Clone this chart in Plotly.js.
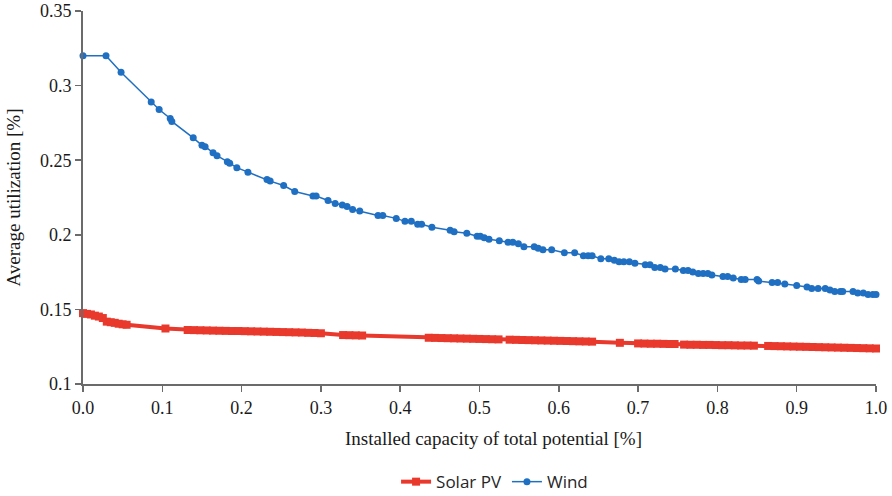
<!DOCTYPE html>
<html>
<head>
<meta charset="utf-8">
<script src="https://cdn.plot.ly/plotly-3.0.1.min.js"></script>
<style>
  html, body { margin: 0; padding: 0; background: #ffffff; }
  #chart { width: 892px; height: 496px; }
</style>
</head>
<body>
<div id="chart"></div>
<script>
// Installed capacity share (x) vs. average utilization (y)
const windX = [0.000, 0.029, 0.048, 0.086, 0.096, 0.110, 0.112, 0.139, 0.150, 0.154,
  0.164, 0.169, 0.182, 0.185, 0.194, 0.208, 0.232, 0.236, 0.253, 0.267,
  0.290, 0.294, 0.309, 0.318, 0.327, 0.333, 0.340, 0.349, 0.372, 0.378,
  0.395, 0.406, 0.414, 0.422, 0.427, 0.440, 0.463, 0.468, 0.484, 0.497,
  0.501, 0.506, 0.512, 0.525, 0.536, 0.542, 0.549, 0.556, 0.569, 0.574,
  0.580, 0.591, 0.607, 0.620, 0.631, 0.637, 0.642, 0.653, 0.663, 0.670,
  0.676, 0.682, 0.689, 0.696, 0.709, 0.715, 0.721, 0.728, 0.734, 0.747,
  0.757, 0.763, 0.769, 0.776, 0.782, 0.788, 0.793, 0.807, 0.813, 0.820,
  0.830, 0.835, 0.850, 0.852, 0.869, 0.876, 0.885, 0.900, 0.913, 0.919,
  0.927, 0.936, 0.942, 0.948, 0.955, 0.958, 0.971, 0.977, 0.984, 0.990,
  0.996, 1.000];
const windY = [0.320, 0.320, 0.309, 0.289, 0.284, 0.278, 0.276, 0.265, 0.260, 0.259,
  0.255, 0.253, 0.249, 0.248, 0.245, 0.242, 0.237, 0.236, 0.233, 0.229,
  0.226, 0.226, 0.223, 0.221, 0.220, 0.219, 0.217, 0.216, 0.213, 0.213,
  0.211, 0.209, 0.209, 0.207, 0.207, 0.205, 0.203, 0.202, 0.201, 0.199,
  0.199, 0.198, 0.197, 0.196, 0.195, 0.195, 0.194, 0.192, 0.192, 0.191,
  0.190, 0.190, 0.188, 0.188, 0.186, 0.186, 0.186, 0.184, 0.184, 0.183,
  0.182, 0.182, 0.182, 0.181, 0.180, 0.180, 0.178, 0.178, 0.177, 0.177,
  0.176, 0.176, 0.175, 0.174, 0.174, 0.174, 0.173, 0.172, 0.172, 0.171,
  0.170, 0.170, 0.170, 0.169, 0.168, 0.168, 0.167, 0.166, 0.165, 0.164,
  0.164, 0.164, 0.163, 0.162, 0.162, 0.162, 0.162, 0.161, 0.161, 0.160,
  0.160, 0.160];

const solarX = [0.000, 0.005, 0.010, 0.015, 0.020, 0.025, 0.030, 0.035, 0.040, 0.045, 0.050, 0.055,
  0.104,
  0.132, 0.140, 0.148, 0.156, 0.164, 0.172, 0.180, 0.188, 0.196, 0.204, 0.212, 0.220,
  0.228, 0.236, 0.244, 0.252, 0.260, 0.268, 0.276, 0.284, 0.292, 0.300,
  0.328, 0.336, 0.344, 0.352,
  0.436, 0.444, 0.452, 0.460, 0.468, 0.476, 0.484, 0.492, 0.500, 0.508, 0.516, 0.524,
  0.538, 0.546, 0.554, 0.562, 0.570, 0.578, 0.586, 0.594, 0.602, 0.610, 0.618, 0.626, 0.634, 0.642,
  0.677,
  0.700, 0.708, 0.716, 0.724, 0.732, 0.740, 0.746,
  0.758, 0.766, 0.774, 0.782, 0.790, 0.798, 0.806, 0.814, 0.822, 0.830, 0.838, 0.846,
  0.864, 0.872, 0.880, 0.888, 0.896, 0.904, 0.912, 0.920, 0.928, 0.936, 0.944, 0.952,
  0.960, 0.968, 0.976, 0.984, 0.992, 1.000];
const solarY = [0.1475, 0.1470, 0.1466, 0.1458, 0.1452, 0.1442, 0.1418, 0.1414, 0.1410, 0.1404, 0.1400, 0.1397,
  0.1372,
  0.1362, 0.1361, 0.1360, 0.1359, 0.1358, 0.1357, 0.1356, 0.1355, 0.1355, 0.1354, 0.1353, 0.1352,
  0.1351, 0.1350, 0.1349, 0.1348, 0.1347, 0.1346, 0.1345, 0.1343, 0.1342, 0.1340,
  0.1328, 0.1327, 0.1326, 0.1325,
  0.1310, 0.1309, 0.1308, 0.1307, 0.1306, 0.1305, 0.1304, 0.1303, 0.1302, 0.1301, 0.1300, 0.1299,
  0.1297, 0.1296, 0.1295, 0.1294, 0.1293, 0.1292, 0.1291, 0.1290, 0.1289, 0.1288, 0.1287, 0.1286, 0.1285, 0.1284,
  0.1276,
  0.1272, 0.1271, 0.1270, 0.1270, 0.1269, 0.1268, 0.1268,
  0.1264, 0.1263, 0.1263, 0.1262, 0.1262, 0.1261, 0.1260, 0.1260, 0.1259, 0.1258, 0.1258, 0.1257,
  0.1255, 0.1254, 0.1253, 0.1252, 0.1251, 0.1250, 0.1249, 0.1248, 0.1247, 0.1246, 0.1245, 0.1244,
  0.1243, 0.1242, 0.1241, 0.1240, 0.1239, 0.1238];

const xTickVals = [0, 0.1, 0.2, 0.3, 0.4, 0.5, 0.6, 0.7, 0.8, 0.9, 1.0];
const xTickText = ['0.0', '0.1', '0.2', '0.3', '0.4', '0.5', '0.6', '0.7', '0.8', '0.9', '1.0'];
const yTickVals = [0.1, 0.15, 0.2, 0.25, 0.3, 0.35];
const yTickText = ['0.1', '0.15', '0.2', '0.25', '0.3', '0.35'];

const RED = '#e8392c';
const BLUE = '#1f6fc3';
const AXIS = '#6b6b6b';
const SERIF = '"Liberation Serif", "Times New Roman", serif';
const INK = '#1a1a1a';

const traces = [
  {
    name: 'Solar PV', x: solarX, y: solarY, type: 'scatter', mode: 'lines+markers',
    line: { color: RED, width: 4 },
    marker: { symbol: 'square', color: RED, size: 8 },
    cliponaxis: false
  },
  {
    name: 'Wind', x: windX, y: windY, type: 'scatter', mode: 'lines+markers',
    line: { color: BLUE, width: 1.5 },
    marker: { symbol: 'circle', color: BLUE, size: 7 },
    cliponaxis: false
  }
];

const layout = {
  width: 892, height: 496,
  margin: { l: 83, r: 16, t: 11, b: 112, autoexpand: false },
  paper_bgcolor: '#ffffff', plot_bgcolor: '#ffffff',
  showlegend: true,
  legend: {
    orientation: 'h', x: 0.519, xanchor: 'center', y: -0.263, yanchor: 'middle',
    font: { family: '"Open Sans", sans-serif', size: 17, color: '#262626' },
    itemwidth: 30
  },
  // x-axis caption, set slightly right of the plot centre
  annotations: [{
    text: 'Installed capacity of total potential [%]',
    xref: 'paper', yref: 'paper', x: 0.518, y: -0.145,
    xanchor: 'center', yanchor: 'middle', showarrow: false,
    font: { family: SERIF, size: 19, color: INK }
  }],
  xaxis: {
    range: [0, 1], tickvals: xTickVals, ticktext: xTickText, automargin: false,
    showline: true, linecolor: AXIS, linewidth: 2,
    ticks: 'outside', ticklen: 6, tickcolor: AXIS, tickwidth: 1.5,
    showgrid: false, zeroline: false,
    tickfont: { family: SERIF, size: 18, color: INK }
  },
  yaxis: {
    range: [0.1, 0.35], tickvals: yTickVals, ticktext: yTickText, automargin: false,
    showline: true, linecolor: AXIS, linewidth: 2,
    ticks: 'outside', ticklen: 6, tickcolor: AXIS, tickwidth: 1.5,
    showgrid: false, zeroline: false,
    tickfont: { family: SERIF, size: 18, color: INK },
    title: { text: 'Average utilization [%]', standoff: 14,
      font: { family: SERIF, size: 19, color: INK } }
  }
};

Plotly.newPlot('chart', traces, layout, { displayModeBar: false, staticPlot: true });
</script>
</body>
</html>
